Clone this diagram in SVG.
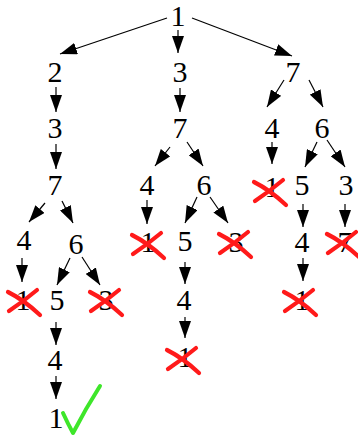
<svg xmlns="http://www.w3.org/2000/svg" xmlns:xlink="http://www.w3.org/1999/xlink" width="358" height="436" viewBox="0 0 358 436">
<style>
text{font-family:"Liberation Serif","Times New Roman",serif;font-size:30px;fill:#000;text-anchor:middle}
.e{stroke:#000;stroke-width:1.2;fill:none;marker-end:url(#ah)}
.x{stroke:#ff1a1a;stroke-width:4.2;fill:none;stroke-linecap:round}
.ok{stroke:#3ee62a;stroke-width:4;fill:none;stroke-linecap:round;stroke-linejoin:round}
</style>
<defs>
<marker id="ah" markerUnits="userSpaceOnUse" markerWidth="18" markerHeight="12" refX="17" refY="6" orient="auto">
<path d="M0,0 L17,6 L0,12 Z" fill="#000"/>
</marker>
<path id="cross" class="x" d="M-16,-10 Q0,-2 16,13 M13,-12 Q0,-1 -15,9"/>
</defs>
<rect width="358" height="436" fill="#fff"/>
<g id="connectors">
<line class="e" x1="167" y1="18" x2="60" y2="54"/>
<line class="e" x1="178" y1="30" x2="178" y2="53"/>
<line class="e" x1="192" y1="18" x2="292" y2="56"/>
<line class="e" x1="56" y1="87" x2="56" y2="112"/>
<line class="e" x1="56" y1="144" x2="56" y2="169"/>
<line class="e" x1="45" y1="203" x2="29" y2="222"/>
<line class="e" x1="62" y1="201" x2="73" y2="223"/>
<line class="e" x1="22" y1="258" x2="22" y2="282"/>
<line class="e" x1="70" y1="258" x2="57" y2="285"/>
<line class="e" x1="82" y1="257" x2="100" y2="285"/>
<line class="e" x1="56" y1="322" x2="56" y2="345"/>
<line class="e" x1="56" y1="376" x2="56" y2="399"/>
<line class="e" x1="180" y1="88" x2="180" y2="112"/>
<line class="e" x1="170" y1="147" x2="155" y2="166"/>
<line class="e" x1="187" y1="142" x2="203" y2="166"/>
<line class="e" x1="147" y1="200" x2="147" y2="224"/>
<line class="e" x1="197" y1="197" x2="185" y2="223"/>
<line class="e" x1="210" y1="197" x2="228" y2="223"/>
<line class="e" x1="185" y1="262" x2="185" y2="284"/>
<line class="e" x1="185" y1="317" x2="185" y2="338"/>
<line class="e" x1="284" y1="80" x2="267" y2="107"/>
<line class="e" x1="309" y1="80" x2="323" y2="107"/>
<line class="e" x1="272" y1="142" x2="272" y2="164"/>
<line class="e" x1="317" y1="142" x2="305" y2="167"/>
<line class="e" x1="327" y1="140" x2="345" y2="167"/>
<line class="e" x1="303" y1="204" x2="303" y2="227"/>
<line class="e" x1="345" y1="204" x2="345" y2="227"/>
<line class="e" x1="303" y1="258" x2="303" y2="281"/>
</g>
<g id="n-root"><text x="178" y="26">1</text></g>
<g id="n-a2"><text x="55" y="82">2</text></g>
<g id="n-b3"><text x="180" y="82">3</text></g>
<g id="n-c7"><text x="293" y="82">7</text></g>
<g id="n-a3"><text x="55" y="138">3</text></g>
<g id="n-a7"><text x="55" y="195">7</text></g>
<g id="n-a4"><text x="24" y="250">4</text></g>
<g id="n-a6"><text x="76" y="254">6</text></g>
<g id="n-a1x"><text x="23" y="310">1</text><use xlink:href="#cross" x="24" y="302"/></g>
<g id="n-a5"><text x="57" y="310">5</text></g>
<g id="n-a3x"><text x="106" y="310">3</text><use xlink:href="#cross" x="106" y="302"/></g>
<g id="n-a4b"><text x="55" y="370">4</text></g>
<g id="n-a1ok"><text x="56" y="428">1</text><path class="ok" d="M63,413 Q68,424 73,433 Q86,408 100,386"/></g>
<g id="n-b7"><text x="180" y="138">7</text></g>
<g id="n-b4"><text x="147" y="195">4</text></g>
<g id="n-b6"><text x="204" y="195">6</text></g>
<g id="n-b1x"><text x="148" y="252">1</text><use xlink:href="#cross" x="148" y="245"/></g>
<g id="n-b5"><text x="185" y="251">5</text></g>
<g id="n-b3x"><text x="236" y="252">3</text><use xlink:href="#cross" x="235" y="244"/></g>
<g id="n-b4b"><text x="184" y="310">4</text></g>
<g id="n-b1xb"><text x="185" y="367">1</text><use xlink:href="#cross" x="183" y="360"/></g>
<g id="n-c4"><text x="272" y="138">4</text></g>
<g id="n-c6"><text x="322" y="138">6</text></g>
<g id="n-c1x"><text x="272" y="197">1</text><use xlink:href="#cross" x="270" y="192"/></g>
<g id="n-c5"><text x="302" y="195">5</text></g>
<g id="n-c3"><text x="346" y="195">3</text></g>
<g id="n-c4b"><text x="302" y="252">4</text></g>
<g id="n-c7x"><text x="345" y="252">7</text><use xlink:href="#cross" x="343" y="244"/></g>
<g id="n-c1xb"><text x="302" y="310">1</text><use xlink:href="#cross" x="300" y="302"/></g>
</svg>
